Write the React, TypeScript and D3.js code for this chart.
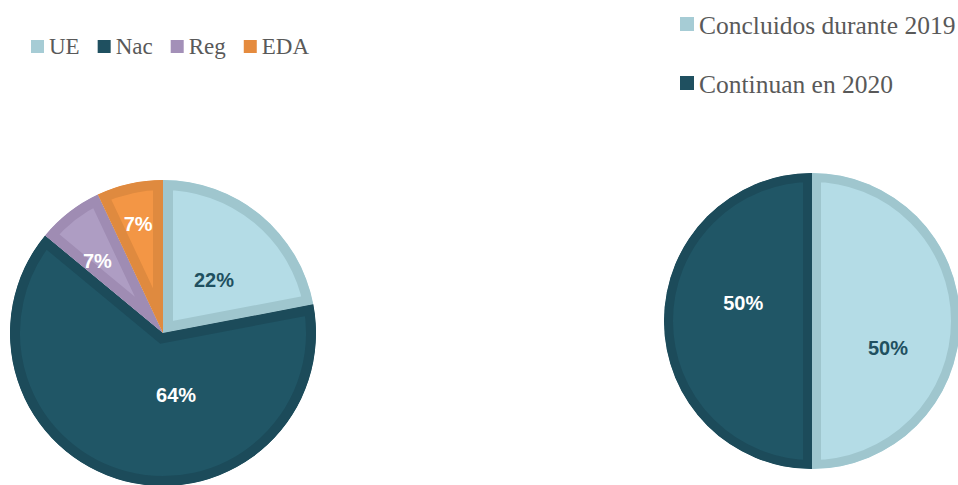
import React, { useEffect, useRef } from "react";
import * as d3 from "d3";

// ---- data ----
const pie1Categories = ["UE", "Nac", "Reg", "EDA"];
const pie1Values = [22, 64, 7, 7];
const pie1Labels = ["22%", "64%", "7%", "7%"];

const pie2Categories = ["Concluidos durante 2019", "Continuan en 2020"];
const pie2Values = [50, 50];
const pie2Labels = ["50%", "50%"];

// ---- styles ----
const fill1 = ["#b4dce6", "#205666", "#ae9dc3", "#f39645"];
const stroke1 = ["#9fc6ce", "#1c4b5a", "#9f8cb3", "#df8a3f"];
const legend1 = ["#a6ccd5", "#1f5060", "#a390b8", "#e58b3e"];
const labelColor1 = ["#1f5060", "#ffffff", "#ffffff", "#ffffff"];
// label placement: [radius fraction, angle shift in degrees]
const labelSpot1: [number, number][] = [[0.48, 4.3], [0.41, -26.4], [0.64, -4.3], [0.73, -0.3]];

const fill2 = ["#b4dce6", "#205666"];
const stroke2 = ["#9fc6ce", "#1c4b5a"];
const legend2 = ["#a6ccd5", "#1f5060"];
const labelColor2 = ["#1f5060", "#ffffff"];
const labelSpot2: [number, number][] = [[0.545, 19.6], [0.48, 14.6]];

const W = 958;
const H = 485;

export default function App() {
  const ref = useRef<SVGSVGElement>(null);
  useEffect(() => {
    const svg = d3.select(ref.current);
    svg.selectAll("*").remove();
    const defs = svg.append("defs");

    function drawPie(
      id: string, cx: number, cy: number, R: number, values: number[], labels: string[],
      fills: string[], strokes: string[], lcolors: string[], spots: [number, number][], sw: number
    ) {
      const pie = d3.pie<number>().sort(null).value((d) => d);
      const arcs = pie(values);
      const arc = d3.arc<d3.PieArcDatum<number>>().innerRadius(0).outerRadius(R);
      const g = svg.append("g").attr("transform", `translate(${cx},${cy})`);
      arcs.forEach((a, i) => {
        const cid = `${id}-clip-${i}`;
        defs.append("clipPath").attr("id", cid)
          .append("path").attr("d", arc(a) as string);
        g.append("path")
          .attr("d", arc(a) as string)
          .attr("fill", fills[i])
          .attr("stroke", strokes[i])
          .attr("stroke-width", sw * 2)
          .attr("stroke-linejoin", "miter")
          .attr("clip-path", `url(#${cid})`);
      });
      arcs.forEach((a, i) => {
        const mid = (a.startAngle + a.endAngle) / 2 + (spots[i][1] * Math.PI) / 180;
        const [x, y] = d3.pointRadial(mid, spots[i][0] * R);
        g.append("text")
          .attr("x", x).attr("y", y).attr("dy", "0.36em")
          .attr("text-anchor", "middle")
          .attr("font-family", "'Liberation Sans', Arial, sans-serif")
          .attr("font-weight", "bold")
          .attr("font-size", 20)
          .attr("fill", lcolors[i])
          .text(labels[i]);
      });
    }

    drawPie("p1", 163, 333, 153, pie1Values, pie1Labels, fill1, stroke1, labelColor1, labelSpot1, 10);
    drawPie("p2", 812, 321, 148, pie2Values, pie2Labels, fill2, stroke2, labelColor2, labelSpot2, 9);

    // legend 1 (horizontal)
    const lg1 = svg.append("g");
    let x = 31;
    pie1Categories.forEach((c, i) => {
      lg1.append("rect").attr("x", x).attr("y", 40).attr("width", 13).attr("height", 13).attr("fill", legend1[i]);
      const t = lg1.append("text").attr("x", x + 18).attr("y", 54)
        .attr("font-family", "'Liberation Serif', 'Times New Roman', serif")
        .attr("font-size", 23).attr("fill", "#595959").text(c);
      const w = (t.node() as SVGTextElement).getComputedTextLength();
      x = x + 18 + w + 18;
    });

    // legend 2 (vertical)
    const lg2 = svg.append("g");
    pie2Categories.forEach((c, i) => {
      const y0 = 17 + i * 59;
      lg2.append("rect").attr("x", 680).attr("y", y0).attr("width", 14).attr("height", 14).attr("fill", legend2[i]);
      lg2.append("text").attr("x", 699).attr("y", y0 + 16.5)
        .attr("font-family", "'Liberation Serif', 'Times New Roman', serif")
        .attr("font-size", 25.5).attr("fill", "#595959").text(c);
    });
  }, []);

  return (
    <svg ref={ref} width={W} height={H} style={{ position: "absolute", left: 0, top: 0, background: "#fff" }} />
  );
}
